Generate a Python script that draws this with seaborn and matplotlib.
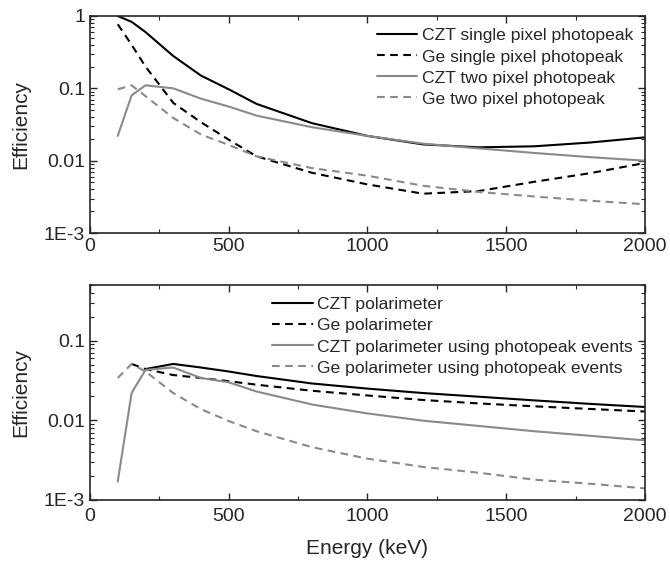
import numpy as np
import pandas as pd
import matplotlib
matplotlib.use("Agg")
import matplotlib.pyplot as plt
import seaborn as sns
from matplotlib.ticker import LogLocator, FixedLocator, MultipleLocator, NullFormatter

# ── data ─────────────────────────────────────────────────────────────────────
energy = [100, 150, 200, 300, 400, 500, 600, 800, 1000, 1200, 1400, 1600, 1800, 2000]

czt_single = [1.0, 0.83, 0.6, 0.28, 0.15, 0.097, 0.061, 0.033, 0.022, 0.0168, 0.0153, 0.0158, 0.0178, 0.021]
ge_single = [0.77, 0.40, 0.20, 0.063, 0.034, 0.0195, 0.0115, 0.0068, 0.0047, 0.0035, 0.0038, 0.0051, 0.0067, 0.0093]
czt_two = [0.022, 0.08, 0.11, 0.10, 0.072, 0.056, 0.042, 0.029, 0.022, 0.0172, 0.0148, 0.0128, 0.0112, 0.0100]
ge_two = [0.097, 0.11, 0.078, 0.039, 0.023, 0.0165, 0.0115, 0.0079, 0.0062, 0.0045, 0.0037, 0.0032, 0.0028, 0.0025]

energy_czt_pol = [200, 300, 400, 500, 600, 800, 1000, 1200, 1400, 1600, 1800, 2000]
czt_pol = [0.044, 0.051, 0.046, 0.041, 0.036, 0.029, 0.025, 0.022, 0.0198, 0.0178, 0.0161, 0.0147]
energy_ge_pol = [150, 200, 300, 400, 500, 600, 800, 1000, 1200, 1400, 1600, 1800, 2000]
ge_pol = [0.051, 0.044, 0.037, 0.034, 0.031, 0.028, 0.0235, 0.0205, 0.018, 0.0163, 0.0150, 0.0139, 0.0129]
czt_pol_pp = [0.0017, 0.022, 0.043, 0.046, 0.034, 0.030, 0.023, 0.0158, 0.0122, 0.0099, 0.0085, 0.0073, 0.0064, 0.0056]
ge_pol_pp = [0.034, 0.051, 0.041, 0.022, 0.0138, 0.0098, 0.0073, 0.0046, 0.0033, 0.0026, 0.0022, 0.0018, 0.0016, 0.0014]

top_labels = ["CZT single pixel photopeak", "Ge single pixel photopeak",
              "CZT two pixel photopeak", "Ge two pixel photopeak"]
bottom_labels = ["CZT polarimeter", "Ge polarimeter",
                 "CZT polarimeter using photopeak events", "Ge polarimeter using photopeak events"]

sns.set_style("ticks")
plt.rcParams["font.family"] = ["Liberation Sans", "DejaVu Sans"]

styles = [("black", "-"), ("black", (0, (3.7, 2.6))),
          ("#8a8a8a", "-"), ("#8a8a8a", (0, (3.7, 2.6)))]

fig = plt.figure(figsize=(6.7, 5.67), dpi=100)
ax1 = fig.add_axes([0.1343, 0.589, 0.8284, 0.3828])
ax2 = fig.add_axes([0.1343, 0.1182, 0.8284, 0.3792])

top_series = [(energy, czt_single), (energy, ge_single), (energy, czt_two), (energy, ge_two)]
bottom_series = [(energy_czt_pol, czt_pol), (energy_ge_pol, ge_pol), (energy, czt_pol_pp), (energy, ge_pol_pp)]

for ax, series, labels in [(ax1, top_series, top_labels), (ax2, bottom_series, bottom_labels)]:
    for (xs, ys), lab, (col, ls) in zip(series, labels, styles):
        sns.lineplot(x=xs, y=ys, ax=ax, color=col, linestyle=ls, linewidth=1.5, label=lab)
    ax.set_yscale("log")
    ax.set_xlim(0, 2000)
    ax.xaxis.set_major_locator(MultipleLocator(500))
    ax.xaxis.set_minor_locator(MultipleLocator(250))
    ax.yaxis.set_major_locator(FixedLocator([1e-3, 1e-2, 1e-1, 1]))
    ax.yaxis.set_minor_locator(LogLocator(base=10, subs=np.arange(2, 10)))
    ax.yaxis.set_minor_formatter(NullFormatter())
    ax.tick_params(which="both", direction="in", top=True, right=True, labelsize=14)
    ax.tick_params(which="major", length=5, width=1)
    ax.tick_params(which="minor", length=3, width=0.8)
    for s in ax.spines.values():
        s.set_linewidth(1.2)
    ax.set_ylabel("Efficiency", fontsize=15, labelpad=10)
    ax.legend(loc="upper right", frameon=False, fontsize=12.6, handlelength=2.3,
              handletextpad=0.25, labelspacing=0.33, borderaxespad=0.3)

ax1.set_ylim(1e-3, 1)
ax1.set_yticks([1e-3, 1e-2, 1e-1, 1])
ax1.set_yticklabels(["1E-3", "0.01", "0.1", "1"])
ax1.set_xlabel("")

ax2.set_ylim(1e-3, 0.5)
ax2.set_yticks([1e-3, 1e-2, 1e-1])
ax2.set_yticklabels(["1E-3", "0.01", "0.1"])
ax2.tick_params(axis="x", which="major", pad=5.5)
ax2.set_xlabel("Energy (keV)", fontsize=15, labelpad=10)

fig.savefig("out.png", dpi=100)
